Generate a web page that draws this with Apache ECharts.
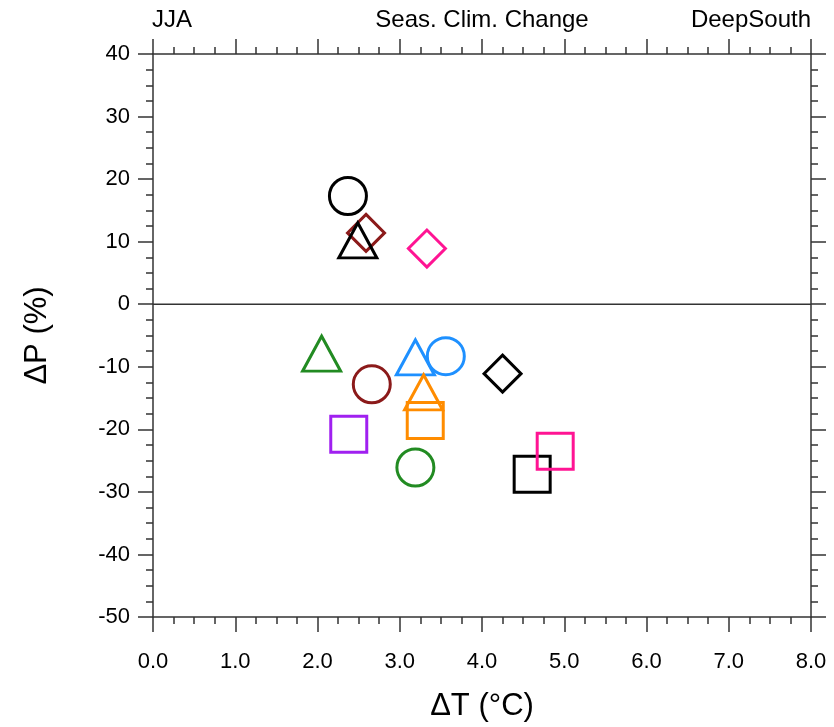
<!DOCTYPE html>
<html>
<head>
<meta charset="utf-8">
<script src="https://cdn.jsdelivr.net/npm/echarts@6/dist/echarts.min.js"></script>
<style>html,body{margin:0;padding:0;background:#fff;}#c{width:834px;height:727px;}</style>
</head>
<body>
<div id="c"></div>
<script>
// Data
const dT =     [2.37, 2.59, 2.49, 3.33, 2.05, 2.66, 3.19, 3.56, 4.25, 3.29, 3.31, 2.38, 3.19, 4.61, 4.89];
const dP =     [17.3, 11.4, 10.2, 8.9, -7.9, -12.8, -8.5, -8.3, -11.1, -14.1, -18.6, -20.8, -26.1, -27.2, -23.5];
const shapes = ['circle','diamond','triangle','diamond','triangle','circle','triangle','circle','diamond','triangle','rect','rect','circle','rect','rect'];
const colors = ['#000000','#8B1A1A','#000000','#FF1493','#228B22','#8B1A1A','#1E90FF','#1E90FF','#000000','#FF8C00','#FF8C00','#A020F0','#228B22','#000000','#FF1493'];
const xTicks = [0,1,2,3,4,5,6,7,8];
const yTicks = [-50,-40,-30,-20,-10,0,10,20,30,40];

const font = 'Liberation Sans, Arial, Helvetica, sans-serif';
const symSize = {circle:[37,37], rect:[36,36], triangle:[38,35], diamond:[37,37]};

const series = dT.map((x, i) => ({
  type: 'scatter',
  data: [[x, dP[i]]],
  symbol: shapes[i],
  symbolSize: symSize[shapes[i]],
  itemStyle: {color: 'rgba(0,0,0,0)', borderColor: colors[i], borderWidth: 3, opacity: 1},
  emphasis: {disabled: true},
  z: 3
}));
series.push({
  type: 'line',
  data: [[xTicks[0], 0], [xTicks[xTicks.length-1], 0]],
  symbol: 'none',
  lineStyle: {color: '#333', width: 1.5},
  z: 2
});

const axisLine = {show: true, onZero: false, lineStyle: {color: '#333', width: 1.5}};
const tick = {show: true, inside: false, length: 15, lineStyle: {color: '#333', width: 1.5}};
const minor = {show: true, splitNumber: 4, length: 7, lineStyle: {color: '#333', width: 1.5}};

const chart = echarts.init(document.getElementById('c'));
chart.setOption({
  animation: false,
  grid: {left: 153, right: 23, top: 54, bottom: 110, containLabel: false},
  graphic: [
    {type: 'text', x: 152, y: 20, style: {text: 'JJA', font: '24px ' + font, fill: '#000', align: 'left', verticalAlign: 'middle'}},
    {type: 'text', x: 482, y: 20, style: {text: 'Seas. Clim. Change', font: '24px ' + font, fill: '#000', align: 'center', verticalAlign: 'middle'}},
    {type: 'text', x: 811, y: 20, style: {text: 'DeepSouth', font: '24px ' + font, fill: '#000', align: 'right', verticalAlign: 'middle'}}
  ],
  xAxis: [
    {type: 'value', min: xTicks[0], max: xTicks[xTicks.length-1], interval: 1, position: 'bottom',
     axisLine, axisTick: tick, minorTick: minor, splitLine: {show: false},
     axisLabel: {formatter: v => v.toFixed(1), fontSize: 22, fontFamily: font, color: '#000', margin: 34},
     name: 'ΔT (°C)', nameLocation: 'middle', nameGap: 74, nameTextStyle: {fontSize: 31, fontFamily: font, color: '#000'}},
    {type: 'value', min: xTicks[0], max: xTicks[xTicks.length-1], interval: 1, position: 'top',
     axisLine, axisTick: tick, minorTick: minor, splitLine: {show: false}, axisLabel: {show: false}}
  ],
  yAxis: [
    {type: 'value', min: yTicks[0], max: yTicks[yTicks.length-1], interval: 10, position: 'left',
     axisLine, axisTick: tick, minorTick: minor, splitLine: {show: false},
     axisLabel: {fontSize: 22, fontFamily: font, color: '#000', margin: 23},
     name: 'ΔP (%)', nameLocation: 'middle', nameGap: 100, nameTextStyle: {fontSize: 31, fontFamily: font, color: '#000'}},
    {type: 'value', min: yTicks[0], max: yTicks[yTicks.length-1], interval: 10, position: 'right',
     axisLine, axisTick: tick, minorTick: minor, splitLine: {show: false}, axisLabel: {show: false}}
  ],
  series
});
</script>
</body>
</html>
